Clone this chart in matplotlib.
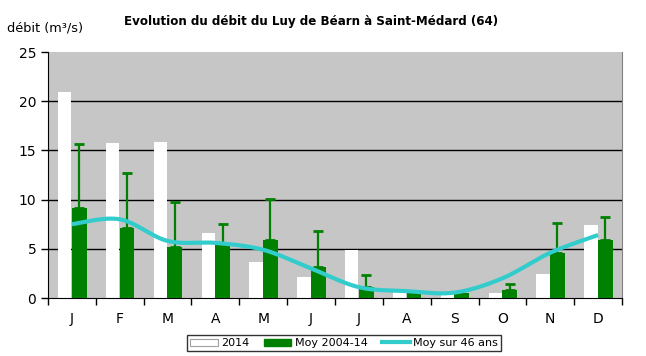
import numpy as np
import matplotlib
matplotlib.use("Agg")
import matplotlib.pyplot as plt
from matplotlib.lines import Line2D
from matplotlib.patches import Patch

months = ["J", "F", "M", "A", "M", "J", "J", "A", "S", "O", "N", "D"]
val_2014 = [20.9, 15.75, 15.85, 6.6, 3.65, 2.1, 4.9, 0.9, 0.4, 0.5, 2.4, 7.4]
moy_0414 = [9.15, 7.1, 5.2, 5.4, 5.9, 3.15, 1.1, 0.8, 0.55, 0.8, 4.6, 5.9]
err_top = [15.7, 12.7, 9.75, 7.5, 10.1, 6.8, 2.35, np.nan, np.nan, 1.45, 7.65, 8.25]
moy_46 = [7.5, 8.0, 5.8, 5.6, 4.9, 3.0, 1.1, 0.7, 0.55, 2.0, 4.6, 6.4]
yticks = [0, 5, 10, 15, 20, 25]

plt.rcParams['font.family'] = ['DejaVu Sans']

fig = plt.figure(figsize=(6.46, 3.56), dpi=100)
ax = fig.add_axes([48/646, 58/356, 574/646, 246/356])
ax.set_facecolor("#C6C6C6")

x = np.arange(len(months))
w = 0.28
ax.bar(x - w/2 - 0.01, val_2014, width=w, color="white", zorder=2)
ax.bar(x + w/2 + 0.01, moy_0414, width=w + 0.03, color="#008000", zorder=3)
err = np.array(err_top, float)
mask = ~np.isnan(err)
xm = (x + w/2 + 0.01)[mask]
ym = np.array(moy_0414)[mask]
ax.errorbar(xm, ym, yerr=[np.zeros(mask.sum()), err[mask] - ym],
            fmt="none", ecolor="#008000", elinewidth=1.6, capsize=3.5, capthick=2, zorder=4)

# Excel-like smoothed line (Bezier through points)
def smooth(xs, ys, n=30):
    xs = np.asarray(xs, float); ys = np.asarray(ys, float)
    px = np.concatenate([[xs[0]], xs, [xs[-1]]])
    py = np.concatenate([[ys[0]], ys, [ys[-1]]])
    outx, outy = [], []
    t = np.linspace(0, 1, n)
    for i in range(1, len(px) - 2):
        p0 = np.array([px[i-1], py[i-1]]); p1 = np.array([px[i], py[i]])
        p2 = np.array([px[i+1], py[i+1]]); p3 = np.array([px[i+2], py[i+2]])
        c1 = p1 + (p2 - p0) / 6
        c2 = p2 - (p3 - p1) / 6
        b = ((1-t)**3)[:, None]*p1 + (3*(1-t)**2*t)[:, None]*c1 + (3*(1-t)*t**2)[:, None]*c2 + (t**3)[:, None]*p2
        outx.extend(b[:, 0]); outy.extend(b[:, 1])
    return np.array(outx), np.array(outy)

sx, sy = smooth(x, moy_46)
ax.plot(sx, sy, color="#33CCCC", lw=3, zorder=5, solid_capstyle="butt")

ax.set_xlim(-0.5, 11.5)
ax.set_ylim(0, 25)
ax.set_yticks(yticks)
for yv in yticks[1:-1]:
    ax.axhline(yv, color="black", lw=1, zorder=1)
ax.set_xticks(np.arange(-0.5, 12, 1))
ax.set_xticklabels([])
ax.set_xticks(x, minor=True)
ax.set_xticklabels(months, minor=True)
ax.tick_params(axis="x", which="minor", length=0, pad=10, labelsize=10)
ax.tick_params(axis="x", which="major", length=5, direction="out", width=1)
ax.tick_params(axis="y", length=5, direction="out", labelsize=10, width=1)
ax.spines["top"].set_visible(False)
ax.spines["right"].set_color("#808080")
ax.spines["left"].set_color("black")
ax.spines["bottom"].set_color("black")

fig.text(7/646, 1 - 28/356, "débit (m³/s)", fontsize=9.3, va="center", ha="left")
fig.text(311/646, 1 - 21/356, "Evolution du débit du Luy de Béarn à Saint-Médard (64)",
         fontsize=8.6, fontweight="bold", va="center", ha="center")

handles = [Patch(facecolor="white", edgecolor="#A0A0A0", lw=0.8),
           Patch(facecolor="#008000", edgecolor="#008000"),
           Line2D([], [], color="#33CCCC", lw=3)]
leg = fig.legend(handles, ["2014", "Moy 2004-14", "Moy sur 46 ans"], loc="center",
                 bbox_to_anchor=(344/646, 1 - 343/356), ncol=3, fontsize=8,
                 frameon=True, fancybox=False, edgecolor="black", handlelength=2.5,
                 handleheight=0.6, columnspacing=1.3, handletextpad=0.3, borderpad=0.3)
leg.get_frame().set_linewidth(1)

fig.savefig("out.png", dpi=100)
